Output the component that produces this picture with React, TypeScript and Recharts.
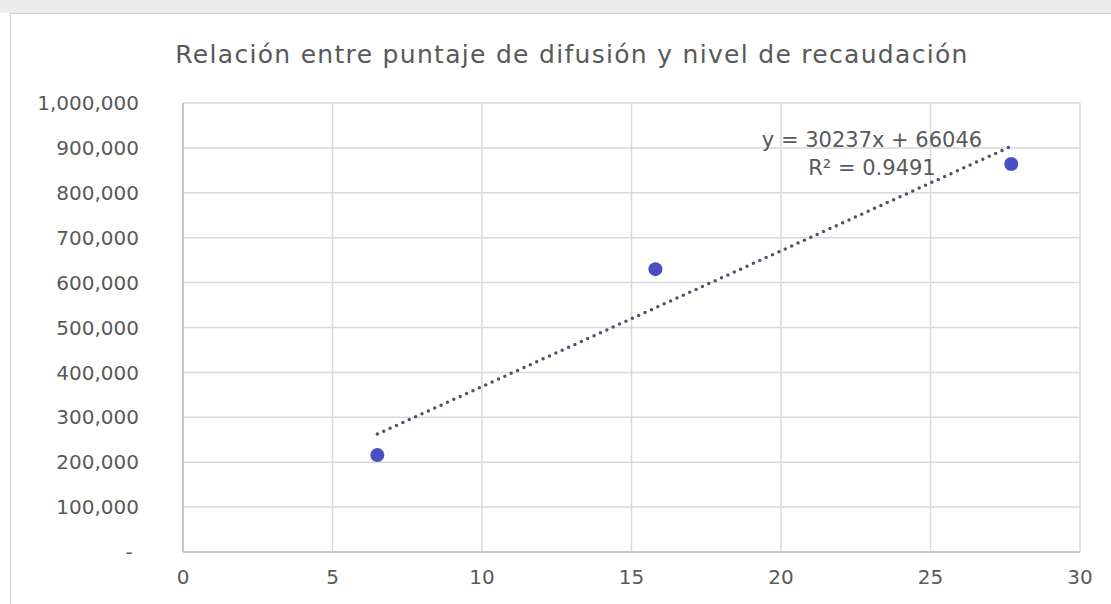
import { ScatterChart, Scatter, XAxis, YAxis, CartesianGrid } from 'recharts'

const puntaje = [6.5, 15.8, 27.7]
const recaudacion = [216000, 630000, 864000]

// trend line ends (y = 30237x + 66046)
const trendX = [6.5, 27.7]
const trendY = [262600, 903600]

const xTicks = [0, 5, 10, 15, 20, 25, 30]
const yTicks = [0, 100000, 200000, 300000, 400000, 500000, 600000, 700000, 800000, 900000, 1000000]

const points = puntaje.map((x, i) => ({ x, y: recaudacion[i] }))
const trend = trendX.map((x, i) => ({ x, y: trendY[i] }))

const FONT = '"DejaVu Sans", sans-serif'
const TEXT = '#595959'

const fmtY = (v: number) => (v === 0 ? '-\u00a0' : v.toLocaleString('en-US'))

export default function App() {
  return (
    <div style={{ position: 'absolute', left: 0, top: 0, width: 1111, height: 604, background: '#fff', overflow: 'hidden', fontFamily: FONT }}>
      <div style={{ position: 'absolute', left: 0, top: 0, width: 1111, height: 13, background: '#ececec' }} />
      <div style={{ position: 'absolute', left: 10, top: 13, width: 1120, height: 600, border: '1.5px solid #d0d0d0', boxSizing: 'border-box' }} />
      <div style={{ position: 'absolute', left: 0, width: 1144, top: 40, textAlign: 'center', fontSize: 25, letterSpacing: 1.3, color: TEXT }}>
        Relación entre puntaje de difusión y nivel de recaudación
      </div>
      <div style={{ position: 'absolute', left: 0, width: 1744, top: 126, textAlign: 'center', fontSize: 21, color: TEXT, lineHeight: '28px', zIndex: 2 }}>
        y = 30237x + 66046
        <br />
        R² = 0.9491
      </div>
      <ScatterChart width={1111} height={604} margin={{ top: 103, right: 31, bottom: 0, left: 0 }}>
        <CartesianGrid stroke="#d9d9d9" strokeWidth={1.5} />
        <XAxis
          type="number"
          dataKey="x"
          domain={[0, 30]}
          ticks={xTicks}
          height={52}
          tickSize={0}
          tickMargin={18}
          axisLine={{ stroke: '#bfbfbf', strokeWidth: 1.5 }}
          tick={{ fill: TEXT, fontSize: 20, fontFamily: FONT }}
        />
        <YAxis
          type="number"
          dataKey="y"
          domain={[0, 1000000]}
          ticks={yTicks}
          width={183}
          tickSize={0}
          tickMargin={44}
          tickFormatter={fmtY}
          axisLine={{ stroke: '#bfbfbf', strokeWidth: 1.5 }}
          tick={{ fill: TEXT, fontSize: 20, fontFamily: FONT }}
        />
        <Scatter
          data={trend}
          line={{ stroke: '#4f546a', strokeWidth: 3.5, strokeDasharray: '0 7', strokeLinecap: 'round' }}
          shape={() => null}
          isAnimationActive={false}
        />
        <Scatter
          data={points}
          fill="#4b4fc4"
          shape={(p: any) => <circle cx={p.cx} cy={p.cy} r={7} fill="#4b4fc4" />}
          isAnimationActive={false}
        />
      </ScatterChart>
    </div>
  )
}
